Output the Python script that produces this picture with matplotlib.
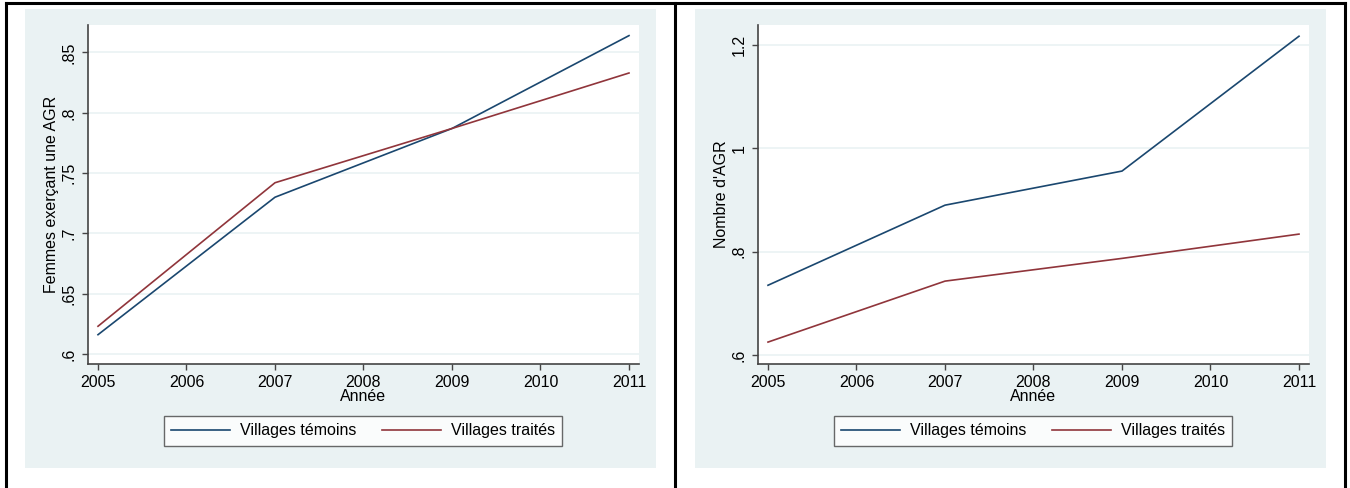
import numpy as np
import matplotlib
matplotlib.use("Agg")
import matplotlib.pyplot as plt
from matplotlib.lines import Line2D
from matplotlib.patches import Rectangle

plt.rcParams['font.family'] = ['Liberation Sans', 'DejaVu Sans']

# data
years = [2005, 2007, 2009, 2011]
agr_temoins = [0.616, 0.730, 0.787, 0.864]
agr_traites = [0.623, 0.742, 0.787, 0.833]
nb_temoins = [0.735, 0.890, 0.956, 1.217]
nb_traites = [0.625, 0.743, 0.787, 0.834]

xticks = [2005, 2006, 2007, 2008, 2009, 2010, 2011]
yticks_left = [0.6, 0.65, 0.7, 0.75, 0.8, 0.85]
ylabels_left = [".6", ".65", ".7", ".75", ".8", ".85"]
yticks_right = [0.6, 0.8, 1.0, 1.2]
ylabels_right = [".6", ".8", "1", "1.2"]

NAVY = "#1a476f"
MAROON = "#90353b"
BG = "#eaf2f3"
W, H = 1350, 488

fig = plt.figure(figsize=(W / 100, H / 100), dpi=100)
fig.patch.set_facecolor("white")


def fx(px):
    return px / W


def fy(py):
    return 1 - py / H


# outer table frame
for (x0, y0, x1, y1) in [(6, 3, 1345, 3), (6, 3, 6, 488), (675, 3, 675, 488), (1345, 3, 1345, 488)]:
    fig.add_artist(Line2D([fx(x0), fx(x1)], [fy(y0), fy(y1)], color="black", lw=2.2,
                          transform=fig.transFigure))

# panel backgrounds
for left in (25, 695):
    fig.add_artist(Rectangle((fx(left), fy(468)), fx(631), 459 / H, facecolor=BG,
                             edgecolor="none", transform=fig.transFigure, zorder=0))


def panel(ax_left, t, tr, yt, yl, ylim, ylabel, leg_x):
    ax = fig.add_axes([fx(ax_left), fy(364), fx(551), 339 / H])
    ax.set_facecolor("white")
    l1, = ax.plot(years, t, color=NAVY, lw=1.2, label="Villages témoins")
    l2, = ax.plot(years, tr, color=MAROON, lw=1.2, label="Villages traités")
    ax.set_xlim(2005 - 10 / 88.5, 2011 + 10 / 88.5)
    ax.set_ylim(*ylim)
    ax.set_xticks(xticks)
    ax.set_yticks(yt)
    ax.set_yticklabels(yl)
    for lab in ax.get_yticklabels():
        lab.set_rotation(90)
        lab.set_va("center")
    ax.grid(axis="y", color=BG, lw=1.2)
    ax.set_axisbelow(True)
    for s in ("top", "right"):
        ax.spines[s].set_visible(False)
    for s in ("left", "bottom"):
        ax.spines[s].set_color("#444444")
        ax.spines[s].set_linewidth(1.2)
    ax.tick_params(direction="out", length=4, width=1, color="#444444",
                   labelsize=11.5, pad=4)
    ax.set_xlabel("Année", fontsize=11.5, labelpad=-1)
    ax.set_ylabel(ylabel, fontsize=11.5, labelpad=2)
    leg = fig.legend(handles=[l1, l2], loc="center", bbox_to_anchor=(fx(leg_x), fy(431)),
                     ncol=2, fontsize=11.5, frameon=True, fancybox=False,
                     handlelength=3.7, handletextpad=0.6, columnspacing=1.6,
                     borderpad=0.45, borderaxespad=0)
    leg.get_frame().set_edgecolor("#444444")
    leg.get_frame().set_linewidth(1.0)
    return ax


panel(88, agr_temoins, agr_traites, yticks_left, ylabels_left,
      (0.5917, 0.8728), "Femmes exerçant une AGR", 363)
panel(758, nb_temoins, nb_traites, yticks_right, ylabels_right,
      (0.5826, 1.2387), "Nombre d'AGR", 1033)

fig.savefig("out.png", dpi=100)
